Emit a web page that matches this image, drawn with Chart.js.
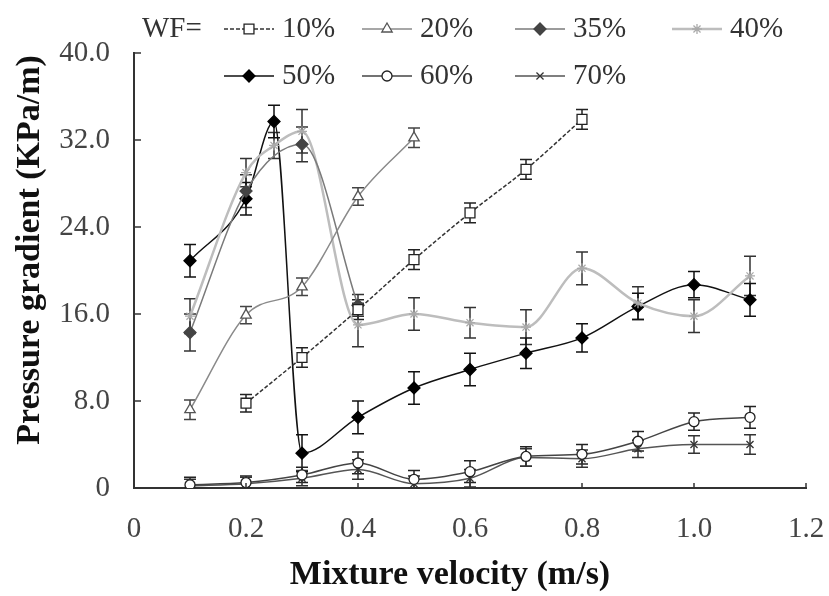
<!DOCTYPE html>
<html lang="en">
<head>
    <meta charset="UTF-8">
    <title>Pressure gradient vs mixture velocity</title>
    <script src="https://cdn.jsdelivr.net/npm/chart.js"></script>
    <style>
        html, body {
            margin: 0;
            padding: 0;
            background: #fff;
        }
        .chart-wrapper {
            width: 829px;
            height: 596px;
        }
    </style>
</head>
<body>
    <div class="chart-wrapper">
        <canvas id="pgChart"></canvas>
    </div>

    <script>
        // mixture velocity (m/s) and pressure gradient (KPa/m)
        const wf10X = [0.2, 0.3, 0.4, 0.5, 0.6, 0.7, 0.8];
        const wf10Y = [7.8, 12.0, 16.4, 21.0, 25.3, 29.3, 33.9];
        const wf10Err = [0.8, 0.9, 0.9, 0.9, 0.9, 0.9, 0.9];

        const wf20X = [0.1, 0.2, 0.3, 0.4, 0.5];
        const wf20Y = [7.2, 15.9, 18.5, 26.8, 32.2];
        const wf20Err = [0.9, 0.8, 0.8, 0.8, 0.9];

        const wf35X = [0.1, 0.2, 0.3, 0.4];
        const wf35Y = [14.3, 27.3, 31.6, 16.8];
        const wf35Err = [1.7, 1.5, 1.6, 1.0];

        const wf40X = [0.1, 0.2, 0.25, 0.3, 0.4, 0.5, 0.6, 0.7, 0.8, 0.9, 1.0, 1.1];
        const wf40Y = [15.8, 29.0, 31.5, 32.8, 15.0, 16.0, 15.2, 14.8, 20.2, 17.0, 15.8, 19.5];
        const wf40Err = [1.6, 1.3, 1.2, 2.0, 2.0, 1.5, 1.4, 1.6, 1.5, 1.5, 1.5, 1.8];

        const wf50X = [0.1, 0.2, 0.25, 0.3, 0.4, 0.5, 0.6, 0.7, 0.8, 0.9, 1.0, 1.1];
        const wf50Y = [20.9, 26.6, 33.7, 3.2, 6.5, 9.2, 10.9, 12.4, 13.8, 16.7, 18.7, 17.3];
        const wf50Err = [1.5, 1.5, 1.5, 1.7, 1.5, 1.5, 1.5, 1.4, 1.3, 1.2, 1.2, 1.5];

        const wf60X = [0.1, 0.2, 0.3, 0.4, 0.5, 0.6, 0.7, 0.8, 0.9, 1.0, 1.1];
        const wf60Y = [0.3, 0.5, 1.2, 2.3, 0.8, 1.5, 2.9, 3.1, 4.3, 6.1, 6.5];
        const wf60Err = [0.7, 0.6, 0.7, 1.0, 0.8, 1.0, 0.9, 0.9, 0.9, 0.8, 1.0];

        const wf70X = [0.1, 0.2, 0.3, 0.4, 0.5, 0.6, 0.7, 0.8, 0.9, 1.0, 1.1];
        const wf70Y = [0.2, 0.4, 0.9, 1.7, 0.4, 0.9, 2.8, 2.7, 3.6, 4.0, 4.0];
        const wf70Err = [0.6, 0.6, 0.7, 0.9, 0.7, 0.8, 0.8, 0.8, 0.8, 0.8, 0.9];

        const seriesLabels = ['10%', '20%', '35%', '40%', '50%', '60%', '70%'];
        const xTicks = [0, 0.2, 0.4, 0.6, 0.8, 1.0, 1.2];
        const yTicks = [0, 8, 16, 24, 32, 40];
        const xTitle = 'Mixture velocity (m/s)';
        const yTitle = 'Pressure gradient (KPa/m)';

        const FONT = "'Liberation Serif', 'DejaVu Serif', serif";

        function pts(xs, ys) {
            return xs.map((x, i) => ({ x: x, y: ys[i] }));
        }

        function series(label, xs, ys, errs, style) {
            return Object.assign({
                label: label,
                data: pts(xs, ys),
                errors: errs,
                borderWidth: 1.5,
                pointRadius: 5,
                pointBorderWidth: 1.3,
                cubicInterpolationMode: 'monotone',
                fill: false
            }, style);
        }

        const datasets = [
            series(seriesLabels[0], wf10X, wf10Y, wf10Err, {
                borderColor: '#333', borderDash: [4, 2],
                pointStyle: 'rect', pointRadius: 7,
                pointBackgroundColor: '#fff', pointBorderColor: '#222', errColor: '#222'
            }),
            series(seriesLabels[1], wf20X, wf20Y, wf20Err, {
                borderColor: '#8a8a8a',
                pointStyle: 'triangle', pointRadius: 6,
                pointBackgroundColor: '#fff', pointBorderColor: '#555', errColor: '#444'
            }),
            series(seriesLabels[2], wf35X, wf35Y, wf35Err, {
                borderColor: '#7a7a7a',
                pointStyle: 'rectRot', pointRadius: 6,
                pointBackgroundColor: '#444', pointBorderColor: '#444', errColor: '#333'
            }),
            series(seriesLabels[3], wf40X, wf40Y, wf40Err, {
                borderColor: '#bdbdbd', borderWidth: 2.5,
                pointStyle: 'star', pointRadius: 5,
                pointBackgroundColor: '#aaa', pointBorderColor: '#aaa', errColor: '#333'
            }),
            series(seriesLabels[4], wf50X, wf50Y, wf50Err, {
                borderColor: '#111',
                pointStyle: 'rectRot', pointRadius: 6,
                pointBackgroundColor: '#000', pointBorderColor: '#000', errColor: '#111'
            }),
            series(seriesLabels[5], wf60X, wf60Y, wf60Err, {
                borderColor: '#444',
                pointStyle: 'circle', pointRadius: 5,
                pointBackgroundColor: '#fff', pointBorderColor: '#222', errColor: '#222'
            }),
            series(seriesLabels[6], wf70X, wf70Y, wf70Err, {
                borderColor: '#555',
                pointStyle: 'crossRot', pointRadius: 5,
                pointBackgroundColor: '#333', pointBorderColor: '#333', errColor: '#333'
            })
        ];

        // error bars, inward tick marks, axis titles and the two-row legend
        const extras = {
            id: 'extras',
            beforeDatasetsDraw(chart) {
                const ctx = chart.ctx;
                const xs = chart.scales.x, ys = chart.scales.y;
                ctx.save();
                chart.data.datasets.forEach(ds => {
                    ctx.strokeStyle = ds.errColor;
                    ctx.lineWidth = 1.5;
                    ds.data.forEach((p, i) => {
                        const e = ds.errors[i];
                        const px = xs.getPixelForValue(p.x);
                        const top = ys.getPixelForValue(p.y + e);
                        const bot = ys.getPixelForValue(Math.max(0, p.y - e));
                        ctx.beginPath();
                        ctx.moveTo(px, top); ctx.lineTo(px, bot);
                        ctx.moveTo(px - 6, top); ctx.lineTo(px + 6, top);
                        ctx.moveTo(px - 6, bot); ctx.lineTo(px + 6, bot);
                        ctx.stroke();
                    });
                });
                ctx.restore();
            },
            afterDraw(chart) {
                const ctx = chart.ctx;
                const xs = chart.scales.x, ys = chart.scales.y;
                const area = chart.chartArea;
                ctx.save();
                ctx.strokeStyle = '#333';
                ctx.lineWidth = 1.5;
                yTicks.forEach(v => {
                    const py = ys.getPixelForValue(v);
                    ctx.beginPath(); ctx.moveTo(area.left, py); ctx.lineTo(area.left + 7, py); ctx.stroke();
                });
                xTicks.forEach(v => {
                    const px = xs.getPixelForValue(v);
                    ctx.beginPath(); ctx.moveTo(px, area.bottom); ctx.lineTo(px, area.bottom - 5); ctx.stroke();
                });

                // axis titles
                ctx.fillStyle = '#111';
                ctx.font = 'bold 34px ' + FONT;
                ctx.textAlign = 'center';
                ctx.textBaseline = 'middle';
                ctx.fillText(xTitle, 450, 575);
                ctx.save();
                ctx.translate(30, 250);
                ctx.rotate(-Math.PI / 2);
                ctx.fillText(yTitle, 0, 0);
                ctx.restore();

                // legend
                ctx.font = '29px ' + FONT;
                ctx.fillStyle = '#333';
                ctx.textAlign = 'left';
                ctx.fillText('WF=', 142, 29);
                const cols = [224, 362, 515, 672];
                chart.data.datasets.forEach((ds, i) => {
                    const row = i < 4 ? 0 : 1;
                    const x0 = cols[row === 0 ? i : i - 4];
                    const y0 = row === 0 ? 29 : 76;
                    ctx.save();
                    ctx.strokeStyle = ds.borderColor;
                    ctx.lineWidth = ds.borderWidth;
                    ctx.setLineDash(ds.borderDash || []);
                    ctx.beginPath(); ctx.moveTo(x0, y0); ctx.lineTo(x0 + 50, y0); ctx.stroke();
                    ctx.setLineDash([]);
                    ctx.fillStyle = ds.pointBackgroundColor;
                    ctx.strokeStyle = ds.pointBorderColor;
                    ctx.lineWidth = ds.pointBorderWidth;
                    Chart.helpers.drawPoint(ctx, {
                        pointStyle: ds.pointStyle, radius: ds.pointRadius,
                        borderWidth: ds.pointBorderWidth, rotation: 0
                    }, x0 + 25, y0);
                    ctx.restore();
                    ctx.fillStyle = '#333';
                    ctx.fillText(ds.label, x0 + 58, y0);
                });
                ctx.restore();
            }
        };

        const ctx = document.getElementById('pgChart').getContext('2d');
        new Chart(ctx, {
            type: 'line',
            data: { datasets: datasets },
            plugins: [extras],
            options: {
                responsive: true,
                maintainAspectRatio: false,
                animation: false,
                layout: { padding: { top: 53, right: 23, left: 0, bottom: 0 } },
                plugins: {
                    legend: { display: false },
                    tooltip: { enabled: false }
                },
                scales: {
                    x: {
                        type: 'linear',
                        min: 0,
                        max: 1.2,
                        afterFit(scale) {
                            scale.height = 108;
                            scale.paddingLeft = 0;
                            scale.paddingRight = 0;
                        },
                        afterBuildTicks(scale) { scale.ticks = xTicks.map(v => ({ value: v })); },
                        grid: { display: false },
                        border: { color: '#333', width: 2 },
                        ticks: {
                            padding: 16,
                            color: '#444',
                            font: { family: FONT, size: 29 },
                            maxRotation: 0,
                            callback: v => v === 0 ? '0' : v.toFixed(1)
                        }
                    },
                    y: {
                        min: 0,
                        max: 40,
                        afterFit(scale) { scale.width = 134; },
                        afterBuildTicks(scale) { scale.ticks = yTicks.map(v => ({ value: v })); },
                        grid: { display: false },
                        border: { color: '#333', width: 2 },
                        ticks: {
                            padding: 16,
                            color: '#444',
                            font: { family: FONT, size: 29 },
                            callback: v => v === 0 ? '0' : v.toFixed(1)
                        }
                    }
                }
            }
        });
    </script>
</body>
</html>
